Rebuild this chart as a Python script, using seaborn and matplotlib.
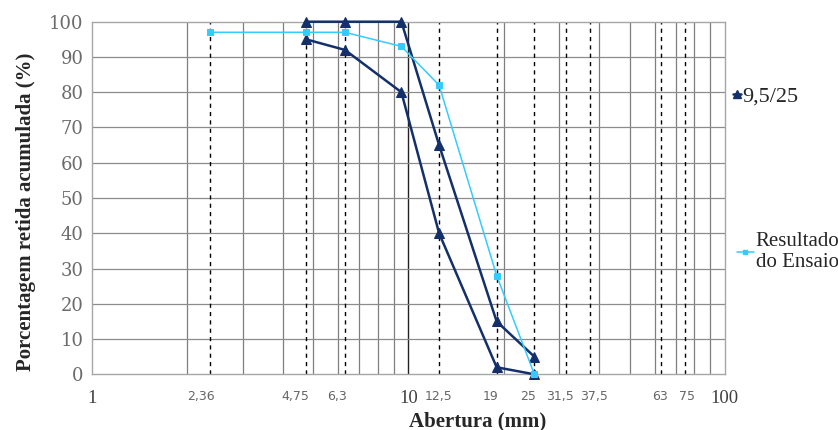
import numpy as np
import pandas as pd
import matplotlib
matplotlib.use('Agg')
import matplotlib.pyplot as plt
import matplotlib.transforms as mtransforms
from matplotlib.lines import Line2D
import seaborn as sns

# peneiras (mm) e limites da faixa 9,5/25
abertura_lim = [4.75, 6.3, 9.5, 12.5, 19, 25]
lim_superior = [100, 100, 100, 65, 15, 5]
lim_inferior = [95, 92, 80, 40, 2, 0]

# resultado do ensaio
abertura_ens = [2.36, 4.75, 6.3, 9.5, 12.5, 19, 25]
retida_ens = [97, 97, 97, 93, 82, 28, 0]

peneiras = [2.36, 4.75, 6.3, 12.5, 19, 25, 31.5, 37.5, 63, 75]
peneiras_txt = ['2,36', '4,75', '6,3', '12,5', '19', '25', '31,5', '37,5', '63', '75']
# deslocamento dos rotulos (px), como no grafico original
desloc = [-9, -11, -8, -1, -6.5, -6.5, -6.5, 4, -1.5, 1.5]

navy = '#13306b'
light = '#33ccff'

sns.set_style('white')
plt.rcParams['font.family'] = ['Liberation Serif', 'DejaVu Serif']

fig = plt.figure(figsize=(8.38, 4.3), dpi=100)
ax = fig.add_axes([0.1098, 0.1295, 0.7552, 0.82])

ax.set_xscale('log')
ax.set_xlim(1, 100)
ax.set_ylim(0, 100)

# grade logaritmica
for dec in [1, 10]:
    for m in range(2, 10):
        ax.axvline(dec * m, color='#7f7f7f', lw=0.9, zorder=0)
ax.axvline(10, color='#222222', lw=1.0, zorder=0)
for y in range(10, 100, 10):
    ax.axhline(y, color='#8c8c8c', lw=0.9, zorder=0)
for p in peneiras:
    ax.axvline(p, color='black', lw=1.0, ls=(0, (3, 3)), zorder=1)

df_sup = pd.DataFrame({'x': abertura_lim, 'y': lim_superior})
df_inf = pd.DataFrame({'x': abertura_lim, 'y': lim_inferior})
df_ens = pd.DataFrame({'x': abertura_ens, 'y': retida_ens})

sns.lineplot(data=df_sup, x='x', y='y', ax=ax, color=navy, lw=1.8, marker='^',
             markersize=7, markeredgecolor=navy, sort=False, estimator=None, zorder=3)
sns.lineplot(data=df_inf, x='x', y='y', ax=ax, color=navy, lw=1.8, marker='^',
             markersize=7, markeredgecolor=navy, sort=False, estimator=None, zorder=3)
sns.lineplot(data=df_ens, x='x', y='y', ax=ax, color=light, lw=1.1, marker='s',
             markersize=4.5, markeredgecolor=light, sort=False, estimator=None, zorder=4)
for ln in ax.lines[-3:]:
    ln.set_clip_on(False)

for s in ax.spines.values():
    s.set_color('#a6a6a6')
    s.set_linewidth(1)

ax.set_yticks(range(0, 101, 10))
ax.tick_params(axis='y', length=0, labelsize=13, labelcolor='#6b6b6b', pad=6)
for t in ax.get_yticklabels():
    t.set_family('DejaVu Serif')
ax.set_xticks([1, 10, 100])
ax.set_xticklabels(['1', '10', '100'])
ax.set_xticks(peneiras, minor=True)
ax.set_xticklabels(peneiras_txt, minor=True)
ax.tick_params(axis='x', which='major', length=0, labelsize=13.5, labelcolor='#404040', pad=11)
ax.tick_params(axis='x', which='minor', length=0, labelsize=9, labelcolor='#666666', pad=11)
for t, dx in zip(ax.get_xticklabels(minor=True), desloc):
    t.set_family('DejaVu Sans')
    t.set_transform(t.get_transform() + mtransforms.ScaledTranslation(dx / 100, 0, fig.dpi_scale_trans))

ax.set_xlabel('Abertura (mm)', fontsize=15, fontweight='bold')
ax.xaxis.set_label_coords(0.61, -0.134)
ax.xaxis.label.set_va('center')
ax.set_ylabel('Porcentagem retida acumulada (%)', fontsize=15, fontweight='bold')
ax.yaxis.set_label_coords(-0.105, 0.462)
ax.yaxis.label.set_va('center')

h1 = Line2D([], [], color=navy, lw=1.8, marker='^', markersize=6)
h2 = Line2D([], [], color=light, lw=1.1, marker='s', markersize=3.5)
fig.legend([h1], ['9,5/25'], loc='center left', bbox_to_anchor=(0.875, 0.775),
           frameon=False, fontsize=16, handlelength=0.35, handletextpad=0.05,
           borderpad=0, borderaxespad=0)
fig.legend([h2], ['Resultado\ndo Ensaio'], loc='center left', bbox_to_anchor=(0.8795, 0.414),
           frameon=False, fontsize=15, handlelength=0.8, handletextpad=0.1,
           borderpad=0, borderaxespad=0)

fig.savefig('out.png', dpi=100)
